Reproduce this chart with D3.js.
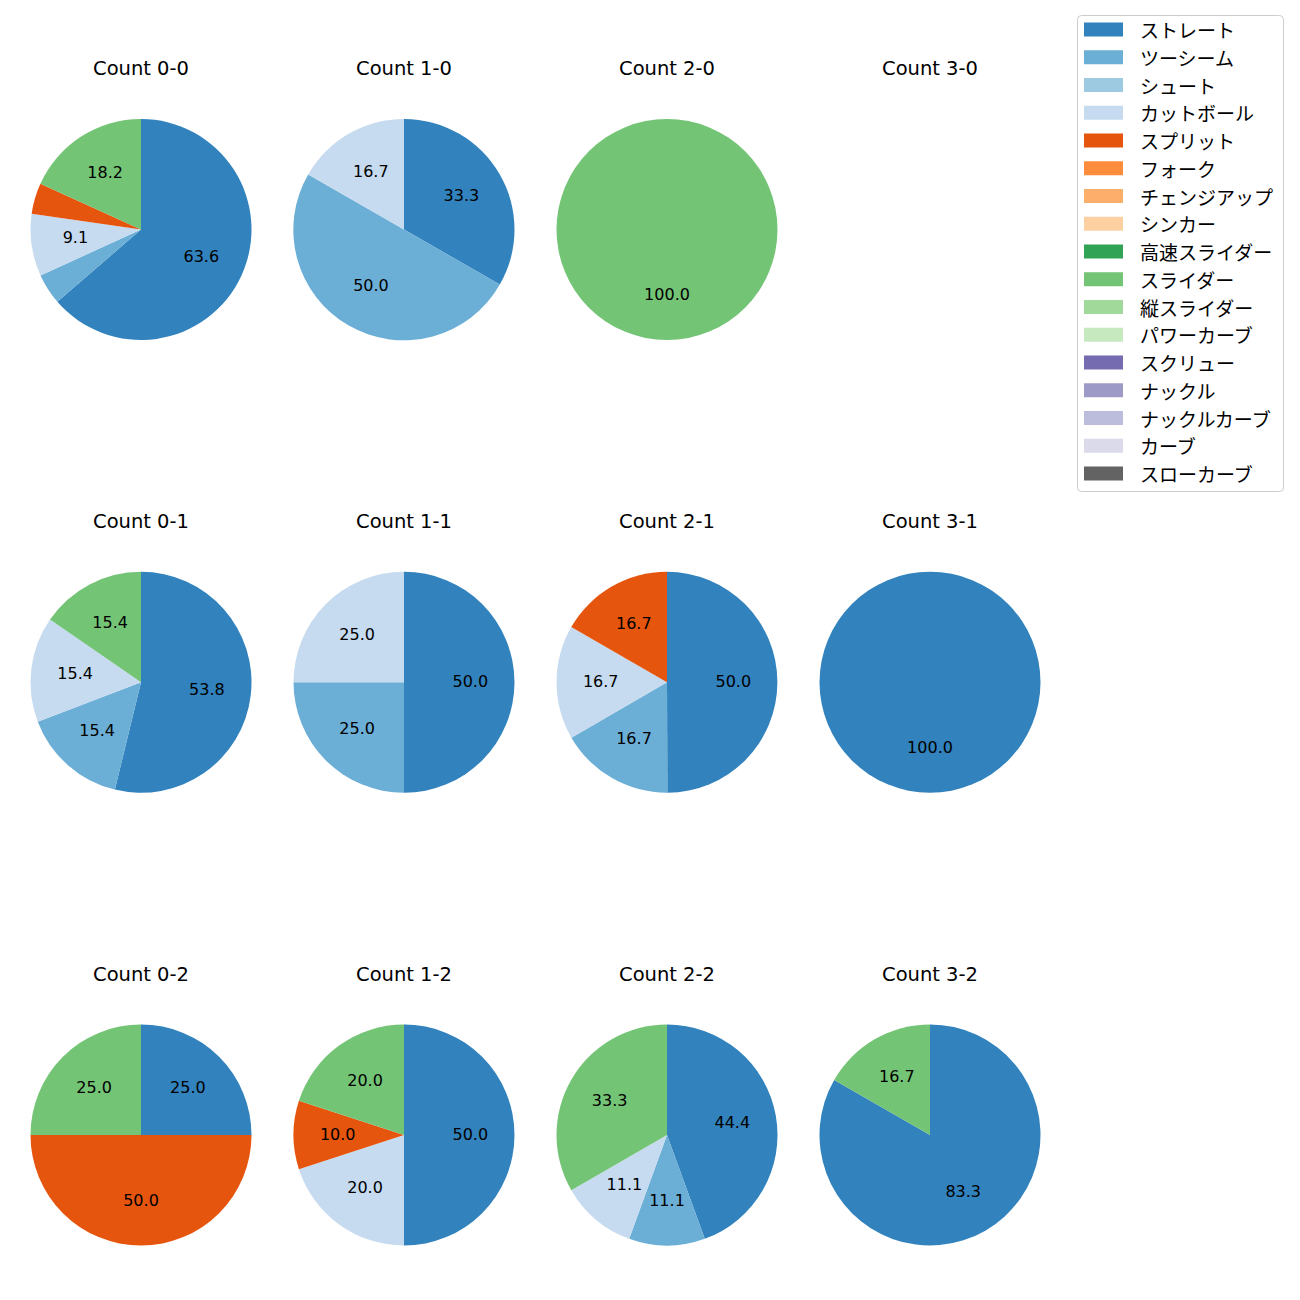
<!DOCTYPE html>
<html>
<head>
<meta charset="utf-8">
<script src="https://cdn.jsdelivr.net/npm/d3@7"></script>
<style>
  body { margin: 0; background: #fff; }
  svg { font-family: "DejaVu Sans", "Noto Sans CJK JP", sans-serif; }
  .legend-label { font-family: "Noto Sans CJK JP", sans-serif; }
</style>
</head>
<body>
<svg id="chart" width="1300" height="1300"></svg>
<script>
// pitch types and their colours (tab20c order)
const pitchTypes = ['ストレート', 'ツーシーム', 'シュート', 'カットボール', 'スプリット', 'フォーク',
  'チェンジアップ', 'シンカー', '高速スライダー', 'スライダー', '縦スライダー', 'パワーカーブ',
  'スクリュー', 'ナックル', 'ナックルカーブ', 'カーブ', 'スローカーブ'];
const pitchColors = ['#3182bd', '#6baed6', '#9ecae1', '#c6dbef', '#e6550d', '#fd8d3c',
  '#fdae6b', '#fdd0a2', '#31a354', '#74c476', '#a1d99b', '#c7e9c0',
  '#756bb1', '#9e9ac8', '#bcbddc', '#dadaeb', '#636363'];

// counts, row-major: balls-strikes
const countLabels = ['0-0', '1-0', '2-0', '3-0', '0-1', '1-1', '2-1', '3-1', '0-2', '1-2', '2-2', '3-2'];

// share (%) per count, columns follow pitchTypes (only first 10 used)
//            ストレ  ツー   シュ  カット  スプ  フォ  チェ  シン  高ス  スラ
const shares = [
  [63.6, 4.5, 0, 9.1, 4.5, 0, 0, 0, 0, 18.2],
  [33.3, 50.0, 0, 16.7, 0, 0, 0, 0, 0, 0],
  [0, 0, 0, 0, 0, 0, 0, 0, 0, 100.0],
  [],
  [53.8, 15.4, 0, 15.4, 0, 0, 0, 0, 0, 15.4],
  [50.0, 25.0, 0, 25.0, 0, 0, 0, 0, 0, 0],
  [50.0, 16.7, 0, 16.7, 16.7, 0, 0, 0, 0, 0],
  [100.0],
  [25.0, 0, 0, 0, 50.0, 0, 0, 0, 0, 25.0],
  [50.0, 0, 0, 20.0, 10.0, 0, 0, 0, 0, 20.0],
  [44.4, 11.1, 0, 11.1, 0, 0, 0, 0, 0, 33.3],
  [83.3, 0, 0, 0, 0, 0, 0, 0, 0, 16.7]
];

const svg = d3.select('#chart');
const radius = 110.5;
const colX = d3.scalePoint().domain([0, 1, 2, 3]).range([141, 930]);
const rowY = d3.scalePoint().domain([0, 1, 2]).range([229.5, 1135]);

const pie = d3.pie().sort(null).value(d => d.value);
const arc = d3.arc().innerRadius(0).outerRadius(radius);
const labelArc = d3.arc().innerRadius(radius * 0.6).outerRadius(radius * 0.6);

countLabels.forEach((label, i) => {
  const cx = colX(i % 4);
  const cy = rowY(Math.floor(i / 4));
  const g = svg.append('g').attr('transform', `translate(${cx},${cy})`);

  g.append('text')
    .attr('x', 0)
    .attr('y', -radius - 50.5)
    .attr('text-anchor', 'middle')
    .attr('dominant-baseline', 'central')
    .attr('font-size', 19.5)
    .attr('fill', '#000')
    .text(`Count ${label}`);

  const data = shares[i]
    .map((v, k) => ({ type: pitchTypes[k], color: pitchColors[k], value: v }))
    .filter(d => d.value > 0);
  if (data.length === 0) return;

  const arcs = g.selectAll('.slice')
    .data(pie(data))
    .enter()
    .append('g')
    .attr('class', 'slice');

  arcs.append('path')
    .attr('d', arc)
    .attr('fill', d => d.data.color);

  // small slices carry no label
  arcs.filter(d => d.data.value >= 5)
    .append('text')
    .attr('transform', d => `translate(${labelArc.centroid(d)})`)
    .attr('dy', -1)
    .attr('text-anchor', 'middle')
    .attr('dominant-baseline', 'central')
    .attr('font-size', 16)
    .attr('fill', '#000')
    .text(d => d.data.value.toFixed(1));
});

// Legend
const legend = svg.append('g').attr('transform', 'translate(1077,15)');
legend.append('rect')
  .attr('x', 0.5)
  .attr('y', 0.5)
  .attr('width', 206)
  .attr('height', 476)
  .attr('rx', 4)
  .attr('fill', '#fff')
  .attr('stroke', '#ccc');

const rowStep = 27.75;
const items = legend.selectAll('.item')
  .data(pitchTypes)
  .enter()
  .append('g')
  .attr('class', 'item')
  .attr('transform', (d, k) => `translate(0,${14.5 + k * rowStep})`);

items.append('rect')
  .attr('x', 7)
  .attr('y', -7)
  .attr('width', 39)
  .attr('height', 14)
  .attr('fill', (d, k) => pitchColors[k]);

items.append('text')
  .attr('class', 'legend-label')
  .attr('x', 63)
  .attr('y', 0)
  .attr('dominant-baseline', 'central')
  .attr('font-size', 19)
  .attr('fill', '#000')
  .text(d => d);
</script>
</body>
</html>
